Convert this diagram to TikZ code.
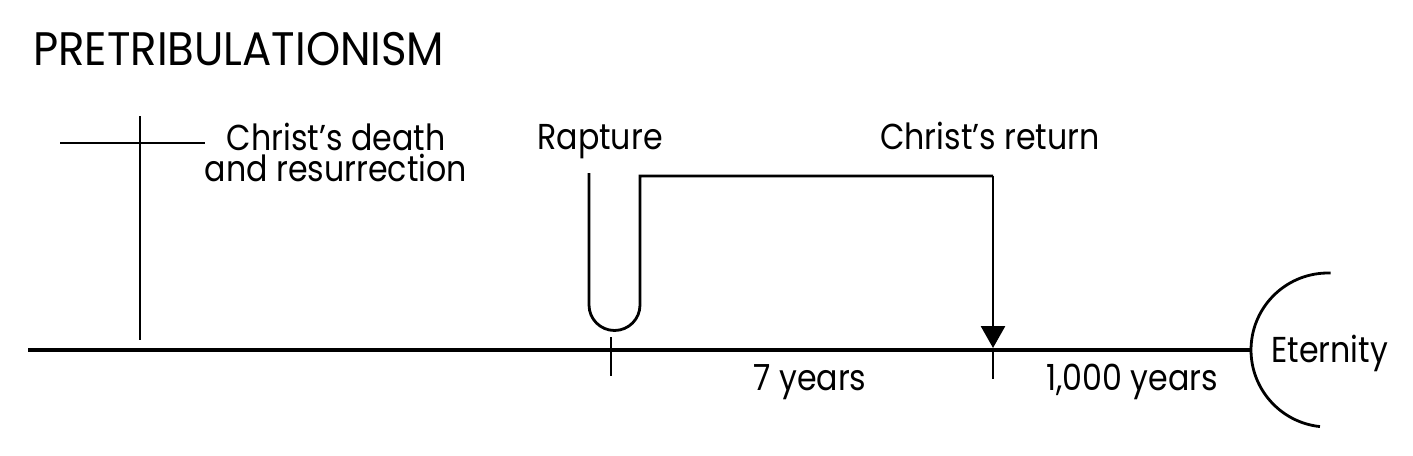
\documentclass[tikz,border=0pt]{standalone}
\usepackage{fontspec}
\setmainfont{Poppins}
\newfontfamily\lblfont[FakeStretch=0.88]{Poppins}
\newfontfamily\ttlfont[FakeStretch=0.925]{Poppins}
\usetikzlibrary{arrows.meta}
\begin{document}
\begin{tikzpicture}[x=1pt,y=-1pt,
  lbl/.style={inner sep=0pt, font=\lblfont\fontsize{36}{31}\selectfont, align=center},
  ttl/.style={inner sep=0pt, font=\ttlfont\fontsize{47}{50}\selectfont},
  fine/.style={line width=2.8pt},
  heavy/.style={line width=4.5pt}]
\useasboundingbox (0,0) rectangle (1413,455);
% title
\node[ttl, anchor=base west] (title) at (33,65) {PRETRIBULATIONISM};
% cross
\coordinate (crossTop) at (140,116);
\coordinate (crossBot) at (140,340);
\coordinate (armL) at (60,143);
\coordinate (armR) at (205,143);
\draw[fine] (crossTop) -- (crossBot);
\draw[fine] (armL) -- (armR);
\node[lbl, anchor=base] (cdr) at (336,181) {Christ’s death\\and resurrection};
% main line
\coordinate (lineStart) at (28,350);
\coordinate (etLeft) at (1251,350);
\draw[heavy] (lineStart) -- (etLeft);
% ticks
\coordinate (rapTickT) at (611,337);
\coordinate (rapTickB) at (611,376);
\coordinate (retTickT) at (993,349);
\coordinate (retTickB) at (993,379);
\draw[fine] (rapTickT) -- (rapTickB);
\draw[fine] (retTickT) -- (retTickB);
% rapture loop and return path
\coordinate (uL) at (589,173);
\coordinate (uR) at (640,176);
\coordinate (retCorner) at (993,176);
\coordinate (retTip) at (993,348);
\draw[fine, line join=miter] (uL) -- (589,305) arc[start angle=180, end angle=0, radius=25.5] -- (uR) -- (retCorner);
\draw[fine, -{Triangle[width=24pt,length=22pt]}] (retCorner) -- (retTip);
% eternity arc
\coordinate (etTop) at ({1328+77*cos(272)},{350+77*sin(272)});
\draw[fine] (etTop) arc[start angle=272, end angle=96, radius=77];
% labels
\node[lbl, anchor=base] (rapture) at (600,149) {Rapture};
\node[lbl, anchor=base] (return) at (990,149) {Christ’s return};
\node[lbl, anchor=base] (seven) at (810,390) {7 years};
\node[lbl, anchor=base] (thousand) at (1132,390) {1,000 years};
\node[lbl, anchor=base west] (eternity) at (1271,362) {Eternity};
\end{tikzpicture}
\end{document}
